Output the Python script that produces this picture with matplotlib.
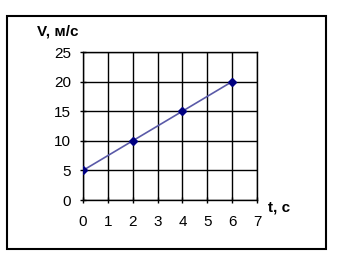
import matplotlib
matplotlib.use("Agg")
import matplotlib.pyplot as plt
from matplotlib.patches import Rectangle

t = [0, 2, 4, 6]
v = [5, 10, 15, 20]
xticks = [0, 1, 2, 3, 4, 5, 6, 7]
yticks = [0, 5, 10, 15, 20, 25]

plt.rcParams['font.family'] = ['Liberation Sans', 'DejaVu Sans']
fig = plt.figure(figsize=(3.38, 2.69), dpi=100)
fig.patches.append(Rectangle((7/338, 1-249/269), (326-7)/338, (249-16)/269,
                             transform=fig.transFigure, fill=False,
                             edgecolor='black', linewidth=1.5))
ax = fig.add_axes([83/338, 1-200/269, (257-83)/338, (200-52)/269])
ax.plot(t, v, color='#5a5aa8', linewidth=1.2, marker='D', markersize=4,
        markerfacecolor='#000080', markeredgecolor='#000080', zorder=3)
ax.set_xlim(0, 7)
ax.set_ylim(0, 25)
ax.set_xticks(xticks)
ax.set_yticks(yticks)
ax.grid(True, color='black', linewidth=1)
for s in ax.spines.values():
    s.set_color('black')
    s.set_linewidth(1)
ax.tick_params(direction='inout', length=5, width=1, labelsize=11)
ax.tick_params(axis='x', pad=8)
ax.tick_params(axis='y', pad=6)
fig.text(37/338, 1-31/269, 'V, м/с', fontsize=11, fontweight='bold', va='center', ha='left')
fig.text(268/338, 1-207/269, 't, с', fontsize=11, fontweight='bold', va='center', ha='left')
fig.savefig('out.png', dpi=100)
